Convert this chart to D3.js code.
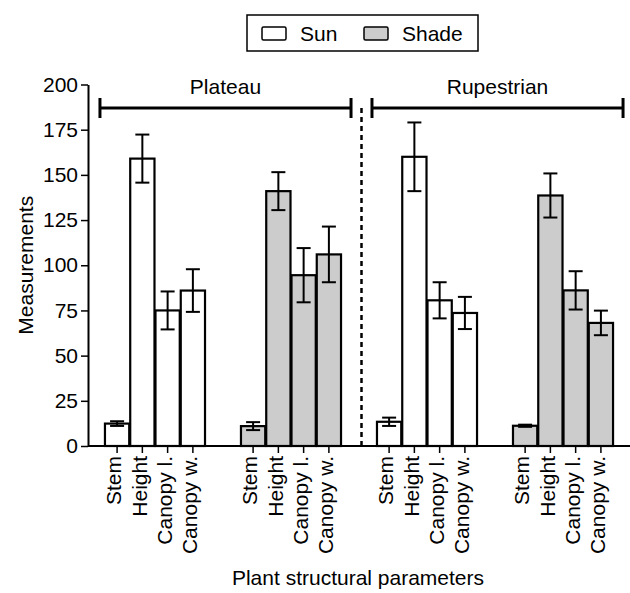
<!DOCTYPE html>
<html>
<head>
<meta charset="utf-8">
<script src="https://cdn.jsdelivr.net/npm/d3@7"></script>
<style>
  body { margin: 0; background: #fff; }
  svg { display: block; font-family: "Liberation Sans", Arial, sans-serif; }
</style>
</head>
<body>
<div id="chart"></div>
<script>
(function() {

const w = 630;
const h = 593;
const fontSize = "21px";

// data
const params = ["Stem", "Height", "Canopy l.", "Canopy w."];
const sites = ["Plateau", "Rupestrian"];
const conditions = ["Sun", "Shade"];
const yTicks = [0, 25, 50, 75, 100, 125, 150, 175, 200];

const plateauSun = [12.4, 159, 75, 86];
const plateauSunErr = [1.3, 13.3, 10.5, 11.8];
const plateauShade = [11, 141, 94.5, 106];
const plateauShadeErr = [2.2, 10.5, 15, 15.4];
const rupestrianSun = [13.4, 160, 80.6, 73.6];
const rupestrianSunErr = [2.3, 19, 10, 8.9];
const rupestrianShade = [11.2, 138.6, 86.1, 68.1];
const rupestrianShadeErr = [0.6, 12.2, 10.6, 6.8];

const fills = { Sun: "#ffffff", Shade: "#cccccc" };

const groups = [
    { site: "Plateau", cond: "Sun", values: plateauSun, err: plateauSunErr },
    { site: "Plateau", cond: "Shade", values: plateauShade, err: plateauShadeErr },
    { site: "Rupestrian", cond: "Sun", values: rupestrianSun, err: rupestrianSunErr },
    { site: "Rupestrian", cond: "Shade", values: rupestrianShade, err: rupestrianShadeErr },
];
groups.forEach(function(g) { g.key = g.site + " " + g.cond; });

const x0 = d3.scaleBand()
    .domain(groups.map(function(g) { return g.key; }))
    .range([88, 630])
    .paddingInner(0.257)
    .paddingOuter(0.121);

const x1 = d3.scaleBand()
    .domain(params)
    .range([0, x0.bandwidth()]);

const y = d3.scaleLinear()
    .domain([0, 200])
    .range([446, 84.5]);

const svg = d3.select("#chart")
    .append("svg")
    .attr("width", w)
    .attr("height", h);

// bars
groups.forEach(function(g) {
    const gg = svg.append("g")
        .attr("transform", "translate(" + x0(g.key) + ",0)");

    gg.selectAll("rect")
        .data(g.values)
        .enter()
        .append("rect")
        .attr("x", function(d, i) { return x1(params[i]) + 0.5; })
        .attr("y", function(d) { return y(d); })
        .attr("width", x1.bandwidth() - 1)
        .attr("height", function(d) { return y(0) - y(d); })
        .attr("fill", fills[g.cond])
        .attr("stroke", "#000")
        .attr("stroke-width", 2.2);

    const eb = gg.selectAll("g.err")
        .data(g.values)
        .enter()
        .append("g")
        .attr("class", "err")
        .attr("stroke", "#000")
        .attr("stroke-width", 2);

    eb.append("line")
        .attr("x1", function(d, i) { return x1(params[i]) + x1.bandwidth() / 2; })
        .attr("x2", function(d, i) { return x1(params[i]) + x1.bandwidth() / 2; })
        .attr("y1", function(d, i) { return y(d + g.err[i]); })
        .attr("y2", function(d, i) { return y(d - g.err[i]); });

    [1, -1].forEach(function(s) {
        eb.append("line")
            .attr("x1", function(d, i) { return x1(params[i]) + x1.bandwidth() / 2 - 7; })
            .attr("x2", function(d, i) { return x1(params[i]) + x1.bandwidth() / 2 + 7; })
            .attr("y1", function(d, i) { return y(d + s * g.err[i]); })
            .attr("y2", function(d, i) { return y(d + s * g.err[i]); });
    });

    // category axis for this group
    const ax = gg.append("g")
        .attr("transform", "translate(0," + y(0) + ")")
        .call(d3.axisBottom(x1).tickSize(7).tickSizeOuter(0));
    ax.select(".domain").remove();
    ax.selectAll("line").attr("stroke-width", 1.5);
    ax.selectAll("text")
        .attr("transform", "rotate(-90)")
        .attr("x", -10)
        .attr("y", 0)
        .attr("dy", "0.2em")
        .style("text-anchor", "end")
        .style("font-size", fontSize)
        .style("font-family", "Liberation Sans, Arial, sans-serif")
        .attr("fill", "#000");
});

// baseline
svg.append("line")
    .attr("x1", 88).attr("x2", 630)
    .attr("y1", y(0)).attr("y2", y(0))
    .attr("stroke", "#000")
    .attr("stroke-width", 2);

// y axis
const yAxis = svg.append("g")
    .attr("transform", "translate(88,0)")
    .call(d3.axisLeft(y).tickValues(yTicks).tickSize(7).tickSizeOuter(0).tickPadding(3));
yAxis.select(".domain").attr("stroke-width", 2);
yAxis.selectAll("line").attr("stroke-width", 1.5);
yAxis.selectAll("text")
    .style("font-size", fontSize)
    .style("font-family", "Liberation Sans, Arial, sans-serif")
    .attr("fill", "#000");

svg.append("text")
    .attr("transform", "translate(33," + (y(0) + y(200)) / 2 + ") rotate(-90)")
    .attr("text-anchor", "middle")
    .style("font-size", fontSize)
    .text("Measurements");

svg.append("text")
    .attr("x", 358)
    .attr("y", 585)
    .attr("text-anchor", "middle")
    .style("font-size", fontSize)
    .text("Plant structural parameters");

// site brackets
const bracketY = 108;
const spans = sites.map(function(s) {
    const sg = groups.filter(function(g) { return g.site === s; });
    const first = x0(sg[0].key);
    const last = x0(sg[sg.length - 1].key) + x0.bandwidth();
    return { site: s, x1: first - 4.5, x2: last + 9.5 };
});

spans.forEach(function(sp) {
    const b = svg.append("g").attr("stroke", "#000").attr("stroke-width", 3);
    b.append("line").attr("x1", sp.x1).attr("x2", sp.x2).attr("y1", bracketY).attr("y2", bracketY);
    b.append("line").attr("x1", sp.x1).attr("x2", sp.x1).attr("y1", bracketY - 10).attr("y2", bracketY + 10);
    b.append("line").attr("x1", sp.x2).attr("x2", sp.x2).attr("y1", bracketY - 10).attr("y2", bracketY + 10);
    svg.append("text")
        .attr("x", (sp.x1 + sp.x2) / 2)
        .attr("y", 94)
        .attr("text-anchor", "middle")
        .style("font-size", fontSize)
        .text(sp.site);
});

// dashed separator
const sepX = (spans[0].x2 + spans[1].x1) / 2;
svg.append("line")
    .attr("x1", sepX).attr("x2", sepX)
    .attr("y1", 108).attr("y2", y(0))
    .attr("stroke", "#000")
    .attr("stroke-width", 2.5)
    .attr("stroke-dasharray", "5,4");

// legend
const legend = svg.append("g");
legend.append("rect")
    .attr("x", 247).attr("y", 15)
    .attr("width", 231).attr("height", 36)
    .attr("fill", "#fff")
    .attr("stroke", "#000")
    .attr("stroke-width", 1.5);

const legendX = [262, 364];
conditions.forEach(function(c, i) {
    legend.append("rect")
        .attr("x", legendX[i]).attr("y", 27)
        .attr("width", 24).attr("height", 13)
        .attr("rx", 1.5)
        .attr("fill", fills[c])
        .attr("stroke", "#000")
        .attr("stroke-width", 1.5);
    legend.append("text")
        .attr("x", legendX[i] + 38)
        .attr("y", 41)
        .style("font-size", fontSize)
        .text(c);
});

})();
</script>
</body>
</html>
